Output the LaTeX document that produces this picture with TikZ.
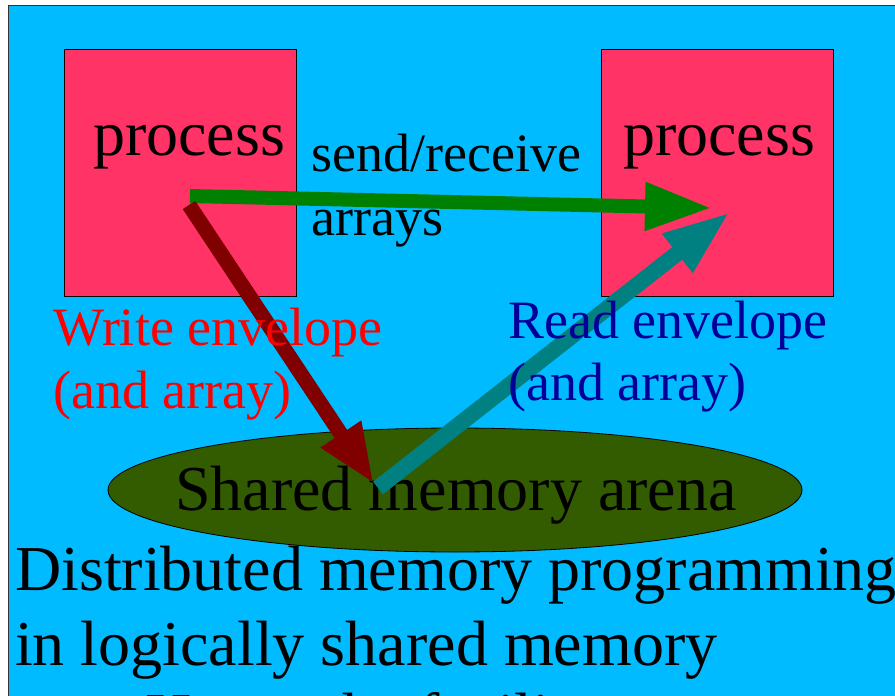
\documentclass[tikz,border=0pt]{standalone}
\usepackage{fontspec}
\setmainfont{Liberation Serif}
\usetikzlibrary{arrows.meta,shapes.geometric}
\definecolor{sky}{HTML}{00BBFF}
\definecolor{frameline}{HTML}{333333}
\definecolor{procpink}{HTML}{FF3366}
\definecolor{arenagreen}{HTML}{335C00}
\definecolor{sendgreen}{HTML}{008000}
\definecolor{writered}{HTML}{800000}
\definecolor{readteal}{HTML}{008080}
\definecolor{readblue}{HTML}{000099}
\tikzset{
  procbox/.style={draw=black, line width=0.8pt, fill=procpink, inner sep=0pt,
    minimum width=232pt, minimum height=247pt},
  arena/.style={ellipse, draw=black, line width=0.8pt, fill=arenagreen, inner sep=0pt,
    minimum width=694pt, minimum height=124pt},
  huge text/.style={inner sep=0pt, anchor=base west, font=\fontsize{64}{64}\selectfont},
  mid text/.style={inner sep=0pt, anchor=base west, font=\fontsize{54}{54}\selectfont},
  fat arrow/.style={line width=#1, line cap=butt},
  sendarrow/.style={fat arrow=14pt, draw=sendgreen,
    -{Triangle[length=67pt,width=45pt]}},
  writearrow/.style={fat arrow=15pt, draw=writered,
    -{Triangle[length=60pt,width=44pt]}},
  readarrow/.style={fat arrow=16pt, draw=readteal,
    -{Triangle[length=67pt,width=45pt]}},
}
\begin{document}
\begin{tikzpicture}[x=1pt,y=-1pt]
\useasboundingbox (0,0) rectangle (895,696);
\clip (0,0) rectangle (895,696);
% slide background with its frame
\fill[white] (0,0) rectangle (895,696);
\draw[fill=sky, draw=frameline, line width=1pt] (8,5) rectangle (910,720);

% the two processes
\node[procbox] (procA) at (180,172.5) {};
\node[procbox] (procB) at (717,172.5) {};
\node[huge text] (procAtxt) at (93,155) {process};
\node[huge text] (procBtxt) at (623,155) {process};

% message-passing label
\node[mid text] (sendtxt) at (311,171) {send/receive};
\node[mid text] (arraytxt) at (311,235) {arrays};

% shared memory arena
\node[arena] (arenaNode) at (455,490) {};
\node[huge text] (arenatxt) at (175,510) {Shared memory arena};

% arrow end points inside the nodes
\coordinate (sendA) at (190,196);
\coordinate (recvB) at (712,208);
\coordinate (writeA) at (189,205);
\coordinate (arenaIn) at (374,484);
\coordinate (arenaOut) at (378,488);
\coordinate (readB) at (730,212);

\draw[sendarrow] (sendA) -- (recvB);
\draw[writearrow] (writeA) -- (arenaIn);
\draw[readarrow] (arenaOut) -- (readB);

% envelope labels
\node[mid text, text=red] (writetxt) at (53,345) {Write envelope};
\node[mid text, text=red] (writetxtB) at (53,408) {(and array)};
\node[mid text, text=readblue] (readtxt) at (508,338) {Read envelope};
\node[mid text, text=readblue] (readtxtB) at (508,400) {(and array)};

% slide caption
\node[huge text] (capA) at (15,590) {Distributed memory programming};
\node[huge text] (capB) at (15,665) {in logically shared memory};
\node[huge text] (capC) at (145,737) {Hence the facility};
\end{tikzpicture}
\end{document}
